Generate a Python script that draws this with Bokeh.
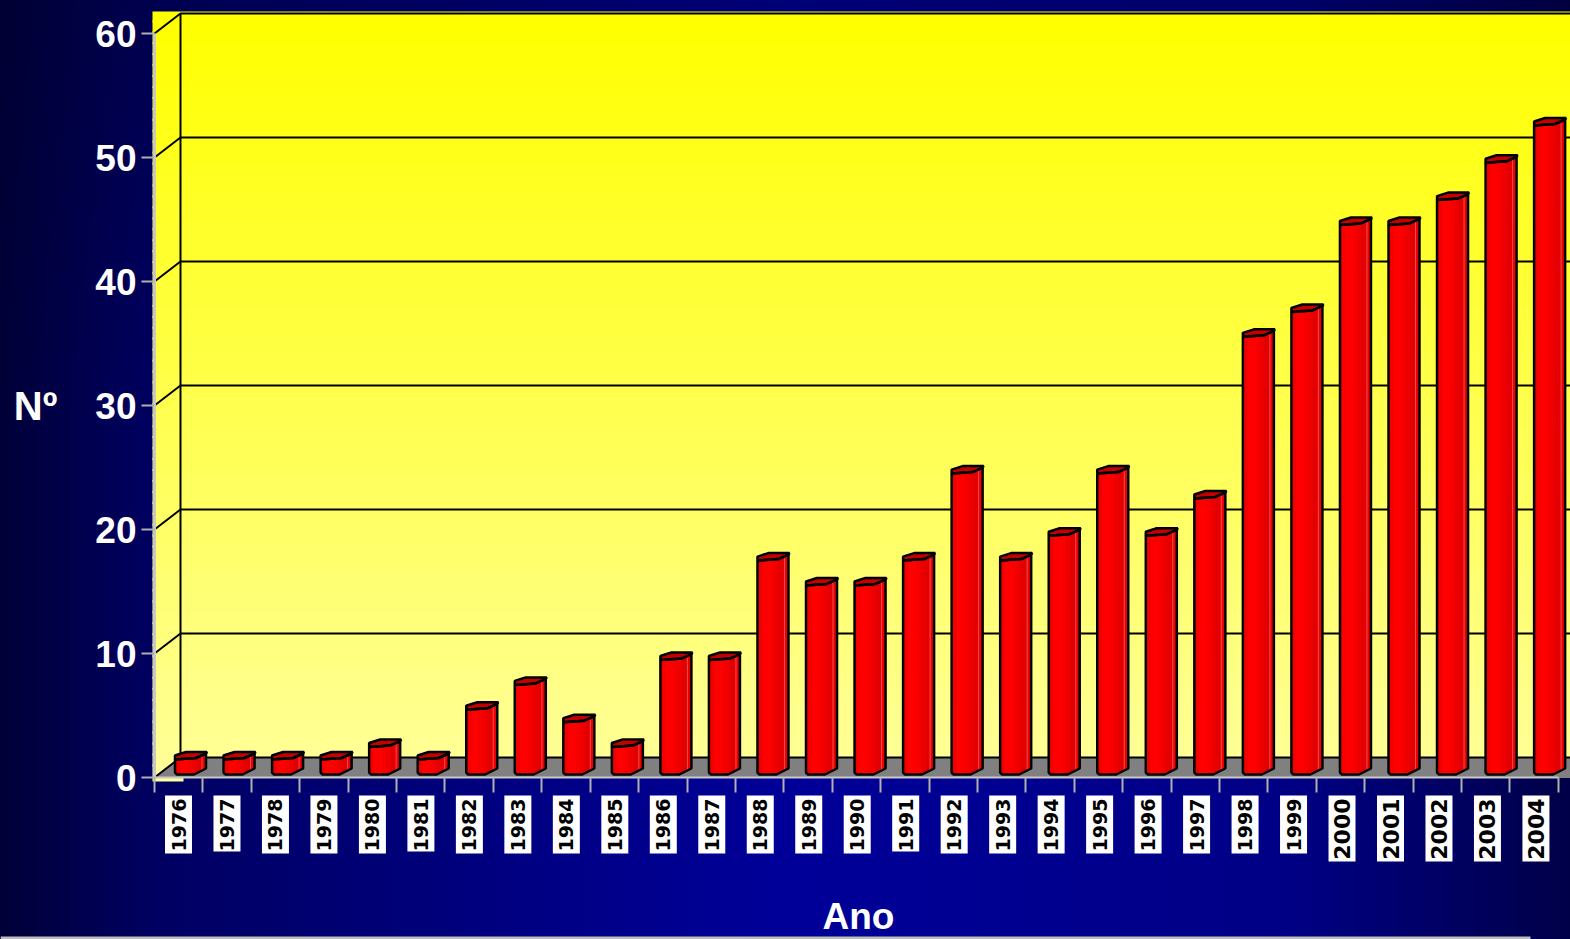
from bokeh.plotting import figure
from bokeh.models import FixedTicker
from bokeh.core.properties import value
from bokeh.embed import file_html
from bokeh.resources import INLINE
import math

years = [str(y) for y in range(1976, 2005)]
counts = [1, 1, 1, 1, 2, 1, 5, 7, 4, 2, 9, 9, 17, 15, 15, 17, 24, 17, 19, 24, 19, 22, 35, 37, 44, 44, 46, 49, 52]
y_ticks = [0, 10, 20, 30, 40, 50, 60]

# scale of the picture (pixels per data unit); value 0 / first tick sit at pixel (154, 777)
W, H = 1570, 939
X0, Y0 = 154, 777
PX_X, PX_Y = 48.41, 12.4
DX, DY = 26 / PX_X, 20 / PX_Y
n = len(years)


def xd(px):
    return px / PX_X


def yd(px):
    return px / PX_Y


p = figure(width=W, height=H, output_backend="svg", toolbar_location=None,
           x_range=(-X0 / PX_X, (W - X0) / PX_X), y_range=((Y0 - H) / PX_Y, Y0 / PX_Y),
           min_border_left=0, min_border_top=0, min_border_right=0, min_border_bottom=0,
           border_fill_color=None, background_fill_color=None, outline_line_color=None,
           styles={"background":
                   "linear-gradient(180deg, rgba(0,0,40,.3) 0%, rgba(0,0,0,0) 45%), "
                   "linear-gradient(90deg, #000038 0%, #000062 10%, #000099 50%, #000085 82%, #000048 100%)"})
p.grid.visible = False

# grey strip at the foot of the slide
p.quad(left=xd(-X0), right=xd(1530 - X0), bottom=yd(Y0 - H), top=yd(Y0 - H + 3), fill_color="#bdbdbd", line_color=None)

# yellow wall gradient
wall_top = yd(Y0 - 11)
steps = 70
p.quad(left=xd(-2), right=31,
       bottom=[wall_top * k / steps for k in range(steps)],
       top=[min(wall_top, wall_top * (k + 1.2) / steps) for k in range(steps)],
       fill_color=["#%02x%02x%02x" % (255, 255, int(153 * (1 - k / (steps - 1)))) for k in range(steps)],
       line_color=None)
p.quad(left=xd(-2), right=xd(29), bottom=yd(-4), top=0, fill_color="#ffff99", line_color=None)

# floor
p.patch([0, DX, 31, 29.2, 0], [0, DY, DY, 0, 0], fill_color="#808080", line_color=None)

# wall lines
for v in y_ticks:
    p.line([0, DX, 31], [v, v + DY, v + DY], line_color="black", line_width=2)
p.line([DX, DX], [DY, 60 + DY], line_color="black", line_width=2)

# bars
BASE = yd(3)
TOP_ADD = 0.45
TOP_SCALE = 1.0025


def top_at(dx):
    return yd(1.5 * dx / 21 if dx < 21 else 1.5 + 4.5 * (dx - 21) / 10)


def bottom_at(dx):
    return 0 if dx < 19 else yd(6 * (dx - 19) / 12)


zones = [(0, 5, "#f20000"), (5, 13, "#ff0000"), (13, 17, "#f60000"),
         (17, 21, "#ee0000"), (21, 26, "#e20000"), (26, 31, "#ee0000")]

for i, v in enumerate(counts):
    x0 = i + xd(20.5 + 0.13 * i)
    T = v * TOP_SCALE + TOP_ADD
    ox = [0, 21, 31, 31, 19, 2, 0, 0]
    oy = [T, T + yd(1.5), T + yd(6), BASE + yd(6), BASE, BASE, BASE + yd(2), T]
    px = [x0 + xd(a) for a in ox]
    # base body under the shade zones
    p.patch(px, oy, fill_color="#f40000", line_color=None)
    for a, b, c in zones:
        e = b + 0.6 if b < 31 else b  # overlap so no seams show
        p.patch([x0 + xd(a), x0 + xd(e), x0 + xd(e), x0 + xd(a)],
                [BASE + bottom_at(a), BASE + bottom_at(e), T + top_at(e), T + top_at(a)],
                fill_color=c, line_color=None)
    # highlight line
    p.line([x0 + xd(27), x0 + xd(27)], [BASE + bottom_at(27), T + top_at(27)],
           line_color="#e86060", line_width=1, line_alpha=0.8)
    # cap
    cx = [0, 0, 11, 32, 31, 21]
    cy = [0, 4, 7.5, 7.5, 6, 1.5]
    p.patch([x0 + xd(a) for a in cx], [T + yd(b) for b in cy],
            fill_color="#c40000", line_color="black", line_width=2.5)
    # outline
    p.line(px, oy, line_color="black", line_width=2.5)

# axes
ya = p.yaxis[0]
ya.fixed_location = 0
ya.ticker = FixedTicker(ticks=y_ticks)
ya.bounds = (0, 60)
ya.minor_tick_line_color = None
ya.major_tick_in = 0
ya.major_tick_out = 13
ya.major_tick_line_color = "#b0b0b0"
ya.major_tick_line_width = 2
ya.axis_line_color = "#c8c8c8"
ya.axis_line_width = 3
ya.major_label_standoff = 5
ya.major_label_text_color = "white"
ya.major_label_text_font = "Liberation Sans"
ya.major_label_text_font_style = "bold"
ya.major_label_text_font_size = "37px"
ya.major_label_orientation = "horizontal"

xa = p.xaxis[0]
xa.fixed_location = 0
xa.bounds = (0, n)
xa.ticker = FixedTicker(ticks=list(range(n + 1)))
xa.major_label_overrides = {i: "" for i in range(n + 1)}
xa.minor_tick_line_color = None
xa.major_tick_in = 0
xa.major_tick_out = 15
xa.major_tick_line_color = "#b0b0b0"
xa.major_tick_line_width = 2
xa.axis_line_color = "#c8c8c8"
xa.axis_line_width = 2
xa.major_label_text_font_size = "1px"
xa.major_label_standoff = 0

# axis titles
title_style = dict(text_align="center", text_baseline="middle", text_color="white",
                   text_font=value("Liberation Sans"), text_font_style="bold")
p.text(x=[xd(35 - X0)], y=[30], text=["Nº"], text_font_size="40px", **title_style)
p.text(x=[xd(858 - X0)], y=[yd(Y0 - 916)], text=["Ano"], text_font_size="37px", **title_style)

# year labels on white boxes
for i, t in enumerate(years):
    cx = i + xd(24 + 0.07 * i)
    wide = t.startswith("2")
    narrow = t in ("1977", "1981", "1991")
    length = 66 if wide else (56 if narrow else 58)
    p.quad(left=cx - xd(13.5), right=cx + xd(13.5),
           top=yd(Y0 - 795), bottom=yd(Y0 - 795 - length),
           fill_color="white", line_color=None)
    p.text(x=[cx], y=[yd(Y0 - 798)], text=[t], angle=math.pi / 2,
           text_align="right", text_baseline="middle", text_color="black",
           text_font=value("DejaVu Sans"), text_font_style="bold",
           text_font_size="22px" if wide else "19px")

open("out.html", "w").write(file_html(p, INLINE))
